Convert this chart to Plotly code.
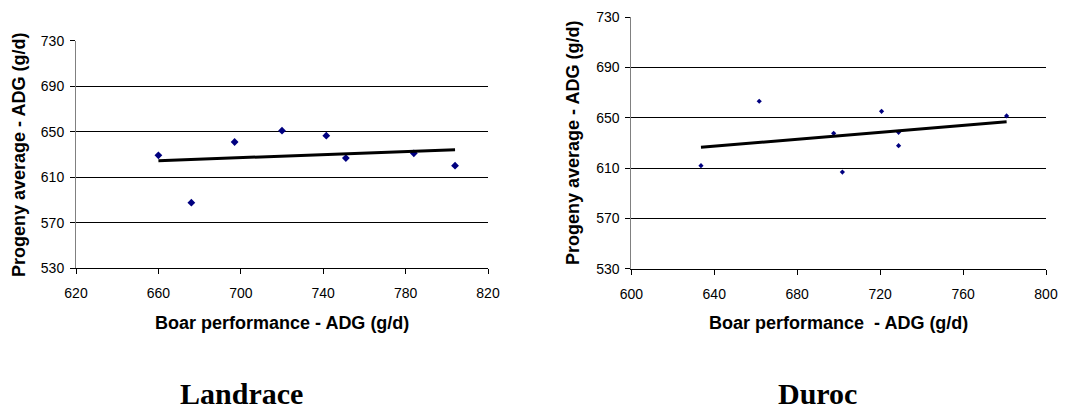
import numpy as np
import plotly.graph_objects as go

# ---- data ----
landrace_boar_adg = [660, 676, 697, 720, 741.5, 751, 784, 804]
landrace_progeny_adg = [629.3, 587.7, 641, 650.9, 646.5, 626.9, 631, 620.2]

duroc_boar_adg = [633.6, 661.7, 697.6, 701.8, 720.7, 728.9, 728.9, 781]
duroc_progeny_adg = [612, 663.2, 637.7, 606.9, 655.2, 638.5, 627.9, 651.5]

y_ticks = [530, 570, 610, 650, 690, 730]
landrace_x_ticks = [620, 660, 700, 740, 780, 820]
duroc_x_ticks = [600, 640, 680, 720, 760, 800]

titles = ["Landrace", "Duroc"]
x_title_left = "Boar performance - ADG (g/d)"
x_title_right = "Boar performance  - ADG (g/d)"
y_title = "Progeny average - ADG (g/d)"

# The page body has an 8px margin, so the figure is drawn 8px in from the top-left.
OFF = 8
W, H = 1079 - OFF, 412 - OFF
SANS = "Liberation Sans, Arial, sans-serif"
SERIF = "Liberation Serif, Times New Roman, serif"
NAVY = "#000080"


def px(x):
    return (x - OFF) / W


def py(y):
    return (412 - y) / H


fig = go.Figure()


def trend(xs, ys):
    b, a = np.polyfit(xs, ys, 1)
    xx = np.array([min(xs), max(xs)])
    return xx, a + b * xx


# Landrace
fig.add_trace(go.Scatter(x=landrace_boar_adg, y=landrace_progeny_adg, mode="markers",
                         marker=dict(symbol="diamond", size=6, color=NAVY),
                         xaxis="x", yaxis="y", showlegend=False))
tx, ty = trend(landrace_boar_adg, landrace_progeny_adg)
fig.add_trace(go.Scatter(x=tx, y=ty, mode="lines", line=dict(color="black", width=3),
                         xaxis="x", yaxis="y", showlegend=False))

# Duroc
fig.add_trace(go.Scatter(x=duroc_boar_adg, y=duroc_progeny_adg, mode="markers",
                         marker=dict(symbol="diamond", size=4, color=NAVY),
                         xaxis="x2", yaxis="y2", showlegend=False))
tx2, ty2 = trend(duroc_boar_adg, duroc_progeny_adg)
fig.add_trace(go.Scatter(x=tx2, y=ty2, mode="lines", line=dict(color="black", width=3),
                         xaxis="x2", yaxis="y2", showlegend=False))

tickfont = dict(family=SANS, size=14, color="black")

common_x = dict(showline=True, linecolor="black", linewidth=1, ticks="outside", ticklen=5,
                tickcolor="black", showgrid=False, zeroline=False, tickfont=tickfont,
                ticklabelstandoff=7, fixedrange=True, automargin=False)
common_y = dict(showline=True, linecolor="#808080", linewidth=1, ticks="outside", ticklen=5,
                tickcolor="black", showgrid=True, gridcolor="black", gridwidth=1,
                zeroline=False, tickfont=tickfont, tickvals=y_ticks, range=[530, 730],
                ticklabelstandoff=3, fixedrange=True, automargin=False)

fig.update_layout(
    template="none",
    width=W, height=H,
    margin=dict(l=0, r=0, t=0, b=0, pad=0),
    paper_bgcolor="white", plot_bgcolor="white",
    xaxis=dict(domain=[px(76), px(488)], range=[620, 820], tickvals=landrace_x_ticks,
               anchor="y", **common_x),
    yaxis=dict(domain=[py(268.3), py(40.7)], anchor="x", **common_y),
    xaxis2=dict(domain=[px(631.3), px(1046)], range=[600, 800], tickvals=duroc_x_ticks,
                anchor="y2", **common_x),
    yaxis2=dict(domain=[py(268.7), py(17.3)], anchor="x2", **common_y),
)

AX_FONT = dict(family=SANS, size=18, color="black")
ann = []
ann.append(dict(text=f"<b>{x_title_left}</b>", x=px(282), y=py(323), xref="paper", yref="paper",
                showarrow=False, font=AX_FONT, xanchor="center", yanchor="middle"))
ann.append(dict(text=f"<b>{x_title_right}</b>", x=px(838), y=py(323), xref="paper", yref="paper",
                showarrow=False, font=AX_FONT, xanchor="center", yanchor="middle"))
ann.append(dict(text=f"<b>{y_title}</b>", x=px(19), y=py(155), xref="paper", yref="paper",
                showarrow=False, textangle=-90, font=AX_FONT, xanchor="center", yanchor="middle"))
ann.append(dict(text=f"<b>{y_title}</b>", x=px(573), y=py(143), xref="paper", yref="paper",
                showarrow=False, textangle=-90, font=AX_FONT, xanchor="center", yanchor="middle"))
ann.append(dict(text=f"<b>{titles[0]}</b>", x=px(241), y=py(393), xref="paper", yref="paper",
                showarrow=False, font=dict(family=SERIF, size=30, color="black"),
                xanchor="center", yanchor="middle"))
ann.append(dict(text=f"<b>{titles[1]}</b>", x=px(817), y=py(393), xref="paper", yref="paper",
                showarrow=False, font=dict(family=SERIF, size=30, color="black"),
                xanchor="center", yanchor="middle"))
fig.update_layout(annotations=ann)

fig.write_html("out.html", config={"displayModeBar": False})
